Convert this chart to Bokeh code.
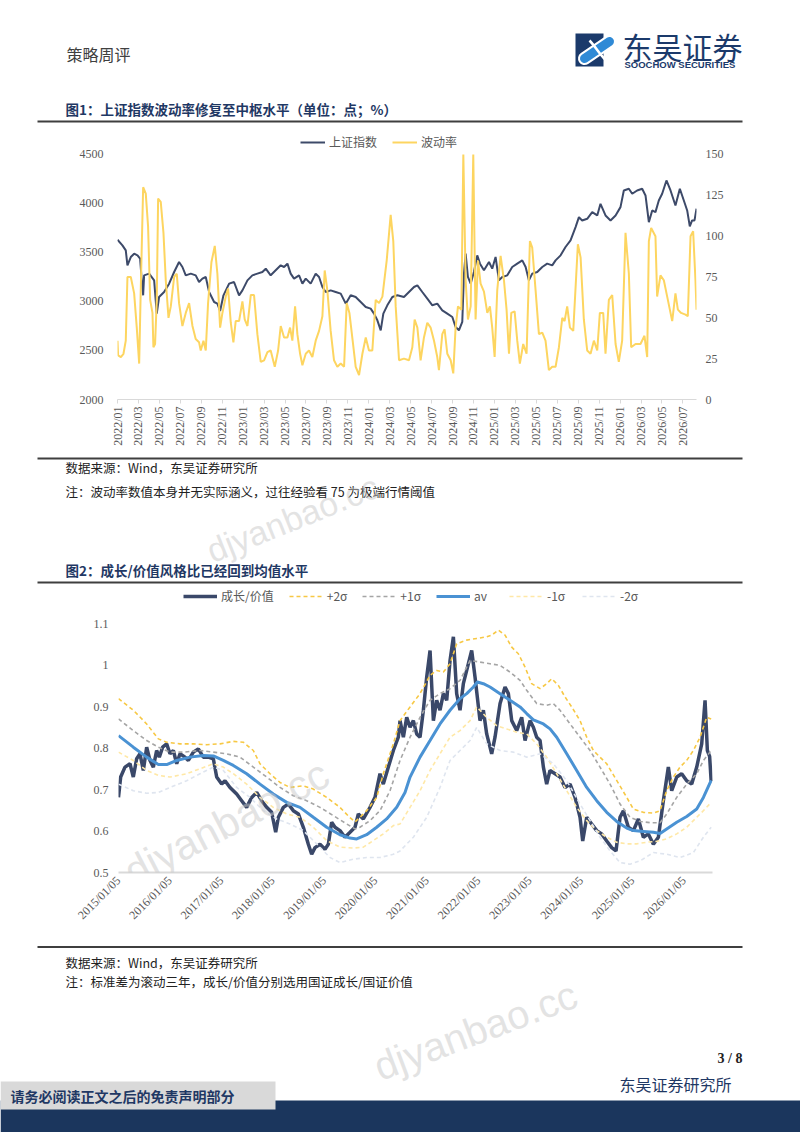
import math
from bokeh.plotting import figure
from bokeh.models import (Range1d, LinearAxis, FixedTicker, Legend, LegendItem, Label)
from bokeh.layouts import column
from bokeh.embed import file_html
from bokeh.resources import INLINE
from bokeh.core.properties import value

# ---------------- data: chart 1 (上证指数 / 波动率) ----------------
x1_ticks = list(range(0, 56, 2))
x1_labels = ["2022/01", "2022/03", "2022/05", "2022/07", "2022/09", "2022/11",
             "2023/01", "2023/03", "2023/05", "2023/07", "2023/09", "2023/11",
             "2024/01", "2024/03", "2024/05", "2024/07", "2024/09", "2024/11",
             "2025/01", "2025/03", "2025/05", "2025/07", "2025/09", "2025/11",
             "2026/01", "2026/03", "2026/05", "2026/07"]
y1_ticks = [2000, 2500, 3000, 3500, 4000, 4500]
y1r_ticks = [0, 25, 50, 75, 100, 125, 150]

sse_m = [0.0, 0.47, 0.79, 0.95, 1.27, 1.59, 1.91, 2.16, 2.29, 2.45, 2.54, 3.02, 3.50, 3.75, 3.97,
         4.45, 4.93, 5.41, 5.88, 6.20, 6.52, 7.0, 7.47, 7.79, 8.11, 8.43, 8.75, 9.23, 9.54, 9.80,
         10.12, 10.66, 11.13, 11.61, 11.93, 12.41, 12.88, 13.36, 13.84, 14.16, 14.63, 15.11, 15.59,
         15.91, 16.23, 16.54, 16.86, 17.34, 17.66, 17.98, 18.45, 18.93, 19.25, 19.57, 19.89, 20.36,
         20.84, 21.32, 21.80, 22.27, 22.75, 23.23, 23.71, 24.18, 24.50, 24.82, 25.14, 25.39, 25.77,
         26.25, 26.73, 27.36, 27.84, 28.32, 28.64, 29.11, 29.59, 30.07, 30.54, 31.02, 31.50, 31.98,
         32.29, 32.61, 32.93, 33.09, 33.25, 33.47, 33.73, 34.04, 34.36, 34.62, 35.0, 35.48, 35.79,
         36.11, 36.43, 36.75, 37.23, 37.70, 38.18, 38.66, 38.98, 39.29, 39.61, 40.09, 40.57, 41.04,
         41.52, 41.84, 42.32, 42.79, 43.27, 43.75, 44.07, 44.38, 44.86, 45.34, 45.82, 46.13, 46.61,
         47.09, 47.57, 48.04, 48.36, 48.84, 49.16, 49.63, 50.11, 50.43, 50.75, 51.07, 51.38, 51.70,
         52.02, 52.43, 52.82, 53.29, 53.71, 54.09, 54.41, 54.66, 54.88, 55.11, 55.30]
sse_val = [3630, 3573, 3522, 3369, 3454, 3488, 3471, 3437, 3250, 3063, 3267, 3284, 3216, 2876, 3046,
           3097, 3182, 3301, 3403, 3352, 3267, 3284, 3267, 3199, 3233, 3250, 3097, 2995, 2978, 2903,
           3063, 3182, 3199, 3063, 3114, 3216, 3267, 3284, 3301, 3335, 3267, 3318, 3369,
           3352, 3386, 3284, 3233, 3267, 3182, 3233, 3182, 3284, 3250, 3148, 3097, 3114,
           3097, 3080, 2978, 3063, 3046, 2995, 2944, 2927, 2876, 2808, 2706, 2876, 2961,
           3046, 3063, 3046, 3097, 3148, 3165, 3097, 3029, 2961, 2978, 2910, 2876, 2842,
           2740, 2706, 2791, 3284, 3488, 3250, 3182, 3301, 3471, 3386, 3318, 3403, 3335,
           3454, 3216, 3250, 3267, 3352, 3386, 3420, 3352, 3216, 3284, 3301, 3352, 3386,
           3369, 3420, 3471, 3556, 3624, 3759, 3861, 3827, 3844, 3912, 3878, 3997, 3878,
           3827, 3878, 3963, 4133, 4150, 4099, 4133, 4150, 4082, 3810, 3929, 3912, 4031,
           4099, 4235, 4133, 3980, 4150, 4031, 3929, 3766, 3827, 3827, 3946]

vol_m = [0.0, 0.06, 0.32, 0.57, 0.79, 0.95, 1.27, 1.59, 1.84, 2.07, 2.22, 2.45, 2.70, 2.92, 3.12,
         3.34, 3.43, 3.59, 3.75, 3.88, 4.13, 4.39, 4.61, 4.87, 5.09, 5.41, 5.66, 5.88, 6.20, 6.52,
         6.84, 7.16, 7.47, 7.79, 7.95, 8.21, 8.43, 8.65, 8.97, 9.29, 9.54, 9.80, 10.02, 10.34, 10.56,
         10.82, 11.07, 11.29, 11.61, 11.93, 12.15, 12.41, 12.73, 13.04, 13.36, 13.68, 14.0, 14.32,
         14.63, 15.02, 15.34, 15.59, 15.91, 16.23, 16.48, 16.70, 16.96, 17.18, 17.44, 17.66, 17.98,
         18.29, 18.61, 18.93, 19.25, 19.57, 19.79, 20.04, 20.36, 20.68, 21.0, 21.32, 21.64, 21.89,
         22.15, 22.46, 22.75, 23.07, 23.39, 23.71, 24.02, 24.34, 24.66, 24.98, 25.30, 25.71, 26.09,
         26.34, 26.57, 26.89, 27.36, 27.84, 28.16, 28.38, 28.64, 28.95, 29.27, 29.59, 29.91, 30.23,
         30.54, 30.70, 31.02, 31.24, 31.50, 31.82, 32.07, 32.29, 32.52, 32.84, 33.03, 33.25, 33.47,
         33.73, 33.98, 34.20, 34.43, 34.68, 35.0, 35.32, 35.57, 35.79, 36.02, 36.27, 36.59, 36.91,
         37.16, 37.39, 37.61, 37.93, 38.18, 38.43, 38.75, 39.07, 39.39, 39.61, 39.93, 40.25, 40.57,
         40.88, 41.20, 41.52, 41.84, 42.16, 42.48, 42.70, 42.95, 43.21, 43.53, 43.97, 44.23, 44.54,
         44.86, 45.18, 45.50, 45.82, 46.07, 46.39, 46.61, 46.93, 47.25, 47.57, 47.88, 48.20, 48.52,
         48.84, 49.06, 49.48, 49.95, 50.33, 50.59, 50.75, 50.97, 51.38, 51.54, 51.86, 52.18, 52.50,
         52.98, 53.29, 53.52, 53.83, 54.25, 54.47, 54.73, 54.98, 55.20, 55.30]
vol_val = [36, 27, 26, 28, 36, 75, 75, 65, 44, 22, 67, 130, 126, 106, 61,
           53, 32, 34, 61, 123, 121, 102, 73, 50, 57, 75, 77, 59, 45, 53,
           59, 45, 37, 35, 30, 36, 30, 59, 84, 94, 77, 44, 53, 63, 68,
           47, 35, 48, 48, 60, 49, 45, 64, 64, 40, 23, 24, 29,
           30, 20, 30, 45, 38, 38, 44, 36, 57, 40, 28, 21, 28,
           30, 26, 36, 42, 51, 79, 67, 42, 24, 20, 22, 20, 59,
           53, 36, 20, 15, 28, 38, 30, 30, 61, 59, 63, 85, 113,
           97, 57, 24, 25, 24, 32, 49, 44, 24, 38, 47, 44, 36,
           26, 18, 40, 43, 28, 24, 16, 44, 57, 55, 150, 73, 49,
           57, 150, 49, 85, 71, 66, 53, 57, 44, 26, 67, 88, 73,
           55, 28, 53, 54, 36, 22, 34, 28, 97, 93, 67, 40, 41,
           36, 18, 20, 20, 32, 50, 48, 57, 44, 42, 95, 87, 49,
           30, 28, 36, 30, 53, 53, 28, 61, 64, 34, 23, 36, 102,
           77, 32, 34, 34, 39, 26, 97, 105, 100, 63, 76, 73, 63,
           48, 65, 55, 53, 52, 51, 100, 103, 73, 55]

# ---------------- data: chart 2 (成长/价值) ----------------
x2_ticks = list(range(0, 12))
x2_labels = ["2015/01/05", "2016/01/05", "2017/01/05", "2018/01/05", "2019/01/05", "2020/01/05",
             "2021/01/05", "2022/01/05", "2023/01/05", "2024/01/05", "2025/01/05", "2026/01/05"]
y2_ticks = [0.5, 0.6, 0.7, 0.8, 0.9, 1.0, 1.1]
y2_labels = ["0.5", "0.6", "0.7", "0.8", "0.9", "1", "1.1"]

ratio_t = [0.0, 0.042, 0.126, 0.224, 0.288, 0.353, 0.418, 0.483, 0.548, 0.613, 0.678, 0.742, 0.794,
           0.859, 0.937, 1.002, 1.067, 1.132, 1.196, 1.294, 1.359, 1.456, 1.553, 1.650, 1.748, 1.845,
           1.910, 2.007, 2.072, 2.169, 2.299, 2.396, 2.493, 2.591, 2.688, 2.785, 2.883, 2.980, 3.058,
           3.110, 3.207, 3.304, 3.401, 3.499, 3.596, 3.693, 3.758, 3.823, 3.920, 4.017, 4.082, 4.147,
           4.212, 4.309, 4.406, 4.504, 4.601, 4.666, 4.763, 4.893, 4.990, 5.087, 5.152, 5.250, 5.347,
           5.444, 5.477, 5.542, 5.607, 5.672, 5.736, 5.801, 5.866, 5.931, 5.996, 6.061, 6.126, 6.190,
           6.255, 6.320, 6.385, 6.450, 6.515, 6.579, 6.644, 6.709, 6.774, 6.871, 6.936, 7.033, 7.098,
           7.163, 7.260, 7.325, 7.423, 7.520, 7.585, 7.650, 7.747, 7.844, 7.909, 8.006, 8.071, 8.136,
           8.201, 8.266, 8.330, 8.395, 8.493, 8.590, 8.687, 8.785, 8.882, 8.979, 9.031, 9.109, 9.206,
           9.303, 9.400, 9.498, 9.595, 9.679, 9.757, 9.822, 9.919, 10.017, 10.114, 10.211, 10.308,
           10.406, 10.503, 10.600, 10.697, 10.762, 10.860, 10.957, 11.054, 11.152, 11.249, 11.346,
           11.411, 11.456, 11.500, 11.530]
ratio_val = [0.681, 0.730, 0.754, 0.762, 0.730, 0.774, 0.786, 0.746, 0.802, 0.770, 0.754, 0.794, 0.778,
             0.802, 0.810, 0.786, 0.794, 0.762, 0.786, 0.778, 0.770, 0.790, 0.798, 0.778, 0.778, 0.774,
             0.730, 0.713, 0.721, 0.705, 0.689, 0.673, 0.657, 0.681, 0.693, 0.673, 0.657, 0.645, 0.597,
             0.633, 0.657, 0.665, 0.649, 0.641, 0.609, 0.568, 0.544, 0.560, 0.568, 0.556, 0.568, 0.621,
             0.609, 0.601, 0.585, 0.597, 0.609, 0.641, 0.629, 0.657, 0.681, 0.738, 0.713, 0.754, 0.794,
             0.826, 0.866, 0.826, 0.874, 0.850, 0.866, 0.834, 0.826, 0.891, 0.971, 1.035, 0.866, 0.915,
             0.891, 0.931, 0.915, 1.011, 1.068, 0.931, 0.891, 0.955, 0.987, 1.035, 0.971, 0.866, 0.891,
             0.834, 0.786, 0.826, 0.907, 0.947, 0.931, 0.866, 0.842, 0.874, 0.818, 0.866, 0.850, 0.826,
             0.818, 0.754, 0.713, 0.746, 0.738, 0.730, 0.705, 0.713, 0.681, 0.633, 0.576, 0.633, 0.617,
             0.601, 0.593, 0.576, 0.560, 0.552, 0.633, 0.649, 0.609, 0.601, 0.629, 0.585, 0.593,
             0.568, 0.585, 0.673, 0.754, 0.697, 0.730, 0.738, 0.721, 0.713, 0.754, 0.810,
             0.915, 0.794, 0.780, 0.720]

av_t = [0.0, 0.288, 0.548, 0.775, 0.937, 1.132, 1.391, 1.650, 1.845, 2.039, 2.234, 2.493, 2.753, 3.012,
        3.272, 3.531, 3.790, 4.050, 4.309, 4.504, 4.634, 4.828, 5.023, 5.217, 5.412, 5.574, 5.672,
        5.866, 6.061, 6.255, 6.450, 6.644, 6.774, 6.904, 6.982, 7.098, 7.228, 7.423, 7.617, 7.812,
        7.941, 8.071, 8.266, 8.395, 8.525, 8.720, 8.914, 9.109, 9.303, 9.498, 9.692, 9.887, 10.017,
        10.211, 10.406, 10.535, 10.665, 10.860, 11.054, 11.249, 11.379, 11.530]
av_val = [0.830, 0.802, 0.778, 0.760, 0.760, 0.770, 0.778, 0.782, 0.781, 0.770, 0.758, 0.738, 0.713, 0.689,
          0.669, 0.657, 0.633, 0.609, 0.591, 0.583, 0.581, 0.591, 0.609, 0.629, 0.657, 0.693, 0.730,
          0.778, 0.818, 0.858, 0.891, 0.919, 0.931, 0.947, 0.959, 0.955, 0.947, 0.931, 0.915, 0.899,
          0.883, 0.868, 0.858, 0.846, 0.826, 0.786, 0.746, 0.705, 0.673, 0.645, 0.623, 0.607, 0.601,
          0.599, 0.597, 0.594, 0.605, 0.621, 0.635, 0.653, 0.681, 0.722]

p2s_t = [0.0, 0.288, 0.548, 0.775, 0.937, 1.196, 1.456, 1.715, 1.975, 2.234, 2.429, 2.623, 2.753, 2.947,
         3.142, 3.336, 3.596, 3.790, 4.050, 4.309, 4.504, 4.601, 4.698, 4.828, 5.023, 5.152, 5.347,
         5.477, 5.672, 5.866, 6.061, 6.190, 6.320, 6.450, 6.579, 6.774, 6.969, 7.163, 7.260, 7.390,
         7.520, 7.650, 7.779, 7.909, 8.039, 8.201, 8.330, 8.428, 8.557, 8.687, 8.817, 8.979, 9.109,
         9.238, 9.368, 9.498, 9.692, 9.887, 10.017, 10.211, 10.406, 10.535, 10.665, 10.795, 10.924,
         11.054, 11.184, 11.314, 11.443, 11.530]
p2s_val = [0.919, 0.891, 0.858, 0.822, 0.814, 0.810, 0.810, 0.808, 0.810, 0.816, 0.814, 0.794, 0.762, 0.738,
           0.717, 0.705, 0.709, 0.701, 0.681, 0.657, 0.632, 0.622, 0.633, 0.649, 0.681, 0.738, 0.810,
           0.866, 0.899, 0.931, 0.975, 0.987, 0.983, 1.003, 1.051, 1.060, 1.064, 1.068, 1.072, 1.084,
           1.072, 1.043, 1.027, 0.995, 0.955, 0.943, 0.955, 0.967, 0.951, 0.923, 0.899, 0.866, 0.826,
           0.794, 0.778, 0.762, 0.722, 0.681, 0.653, 0.645, 0.643, 0.649, 0.697, 0.730, 0.754,
           0.770, 0.794, 0.826, 0.874, 0.870]

p1s_t = [0.0, 0.288, 0.548, 0.775, 1.002, 1.261, 1.585, 1.845, 2.104, 2.364, 2.623, 2.883, 3.142, 3.401,
         3.661, 3.920, 4.180, 4.439, 4.601, 4.698, 4.893, 5.087, 5.282, 5.477, 5.672, 5.866, 6.061,
         6.255, 6.450, 6.644, 6.839, 7.033, 7.228, 7.423, 7.617, 7.812, 7.941, 8.136, 8.330, 8.460,
         8.590, 8.785, 8.979, 9.174, 9.368, 9.563, 9.757, 9.952, 10.146, 10.341, 10.535, 10.665,
         10.860, 11.054, 11.249, 11.379, 11.530]
p1s_val = [0.870, 0.842, 0.818, 0.802, 0.790, 0.790, 0.794, 0.790, 0.786, 0.778, 0.754, 0.730, 0.705, 0.685,
           0.673, 0.657, 0.637, 0.617, 0.605, 0.609, 0.625, 0.649, 0.697, 0.770, 0.826, 0.874, 0.915,
           0.931, 0.943, 0.963, 1.011, 1.007, 1.003, 0.999, 0.983, 0.963, 0.939, 0.907, 0.903, 0.907,
           0.891, 0.858, 0.826, 0.794, 0.754, 0.713, 0.665, 0.633, 0.623, 0.620, 0.620, 0.641,
           0.681, 0.713, 0.738, 0.770, 0.794]

m1s_t = [0.0, 0.288, 0.548, 0.775, 1.002, 1.326, 1.585, 1.845, 2.039, 2.234, 2.493, 2.753, 3.012, 3.272,
         3.531, 3.790, 4.050, 4.309, 4.569, 4.763, 4.958, 5.152, 5.347, 5.477, 5.672, 5.866, 6.061,
         6.255, 6.450, 6.644, 6.839, 6.969, 7.163, 7.358, 7.552, 7.747, 7.941, 8.136, 8.330, 8.525,
         8.720, 8.914, 9.109, 9.303, 9.498, 9.692, 9.887, 10.081, 10.276, 10.470, 10.665, 10.860,
         11.054, 11.249, 11.379, 11.530]
m1s_val = [0.790, 0.770, 0.746, 0.734, 0.730, 0.738, 0.750, 0.762, 0.754, 0.738, 0.713, 0.681, 0.657, 0.641,
           0.633, 0.609, 0.577, 0.561, 0.559, 0.561, 0.577, 0.593, 0.613, 0.617, 0.657, 0.697, 0.746,
           0.786, 0.826, 0.842, 0.866, 0.899, 0.874, 0.854, 0.846, 0.838, 0.834, 0.810, 0.778, 0.738,
           0.697, 0.657, 0.625, 0.601, 0.585, 0.573, 0.569, 0.569, 0.573, 0.575, 0.581, 0.593,
           0.609, 0.633, 0.649, 0.669]

m2s_t = [0.0, 0.288, 0.548, 0.775, 1.002, 1.326, 1.585, 1.845, 2.039, 2.299, 2.558, 2.818, 3.077, 3.336,
         3.596, 3.855, 4.115, 4.309, 4.569, 4.828, 5.087, 5.347, 5.477, 5.736, 5.996, 6.255, 6.450,
         6.644, 6.839, 6.969, 7.163, 7.423, 7.682, 7.941, 8.201, 8.460, 8.720, 8.979, 9.174, 9.368,
         9.563, 9.757, 9.952, 10.146, 10.406, 10.665, 10.924, 11.184, 11.379, 11.530]
m2s_val = [0.713, 0.697, 0.691, 0.693, 0.705, 0.721, 0.738, 0.754, 0.746, 0.705, 0.681, 0.649, 0.629, 0.617,
           0.601, 0.569, 0.536, 0.524, 0.532, 0.536, 0.536, 0.544, 0.552, 0.585, 0.633, 0.705, 0.770,
           0.794, 0.818, 0.850, 0.810, 0.794, 0.790, 0.778, 0.786, 0.762, 0.721, 0.665, 0.625, 0.585,
           0.552, 0.524, 0.520, 0.528, 0.548, 0.544, 0.536, 0.548, 0.585, 0.609]

# ---------------- style ----------------
W = 800
CJK = "Noto Sans CJK SC"
SERIF = "Liberation Serif"
NAVY = "#1f3864"
TICK_C = "#595959"


def deco_fig(y0, y1):
    p = figure(width=W, height=int(y1 - y0), x_range=Range1d(0, 800), y_range=Range1d(y1, y0),
               output_backend="svg", toolbar_location=None, min_border=0,
               x_axis_location=None, y_axis_location=None, frame_align=False)
    p.grid.visible = False
    p.outline_line_color = None
    return p


def txt(p, x, y, s, size, color="#222222", font=CJK, style="normal", align="left",
        baseline="middle", angle=0.0, alpha=1.0):
    p.text(x=[x], y=[y], text=[s], text_font=value(font), text_font_size=value(f"{size}px"),
           text_color=color, text_font_style=style, text_align=align, text_baseline=baseline,
           angle=angle, text_alpha=alpha)


def hline(p, y, x0=37, x1=742, color="#3f3f3f", width=2):
    p.line(x=[x0, x1], y=[y, y], line_color=color, line_width=width)


def style_legend(leg, gw):
    leg.border_line_color = None
    leg.background_fill_alpha = 0
    leg.label_text_font = CJK
    leg.label_text_font_size = "12px"
    leg.label_text_color = TICK_C
    leg.glyph_width = gw
    leg.glyph_height = 12
    leg.label_height = 12
    leg.label_standoff = 4
    leg.spacing = 15
    leg.padding = 0
    leg.margin = 0


# ---------------- header ----------------
pa = deco_fig(0, 130)
txt(pa, 66, 53, "策略周评", 16, color="#404040")
LOGO_BLUE = "#2f8ad6"
pa.quad(left=[575], right=[603], top=[33], bottom=[66], fill_color="#1b3a6b", line_color=None)
pa.line(x=[584, 609], y=[58, 41], line_color="#ffffff", line_width=13, line_cap="round")
pa.line(x=[584, 609], y=[58, 41], line_color=LOGO_BLUE, line_width=9, line_cap="round")
pa.bezier(x0=[589], y0=[40], x1=[608], y1=[62], cx0=[596], cy0=[47], cx1=[600], cy1=[56],
          line_color="#ffffff", line_width=2.5)
txt(pa, 622, 45, "东吴证券", 30, color="#1b3a6b")
txt(pa, 624, 64, "SOOCHOW SECURITIES", 9.5, color="#1b3a6b", font="Liberation Sans", style="bold")
txt(pa, 65, 108, "图1：上证指数波动率修复至中枢水平（单位：点；%）", 13.5, color=NAVY, style="bold")
hline(pa, 121)

# ---------------- chart 1 ----------------
# frame spans page y 134..399; 4500 / 150 sit at page y 154 so the legend fits inside the frame
p1 = figure(width=W, height=325, x_range=Range1d(0, 55.3), y_range=Range1d(2000, 4704),
            output_backend="svg", toolbar_location=None, frame_align=False,
            min_border_left=117, min_border_right=104, min_border_top=4, min_border_bottom=56)
p1.extra_y_ranges = {"vol": Range1d(0, 162.24)}
p1.grid.visible = False
p1.outline_line_color = None
r_sse = p1.line(sse_m, sse_val, line_color="#3d4a69", line_width=2)
r_vol = p1.line(vol_m, vol_val, line_color="#fdd560", line_width=2, y_range_name="vol")

ax = p1.xaxis[0]
ax.ticker = FixedTicker(ticks=x1_ticks)
ax.major_label_overrides = {t: l for t, l in zip(x1_ticks, x1_labels)}
ax.major_label_orientation = math.pi / 2
ax.axis_line_color = "#d9d9d9"
ax.major_tick_line_color = "#d9d9d9"
ax.major_tick_out = 4
ax.major_tick_in = 0
ax.minor_tick_line_color = None
ax.major_label_standoff = 3
ax.major_label_text_font = SERIF
ax.major_label_text_font_size = "12px"
ax.major_label_text_color = TICK_C

ay = p1.yaxis[0]
ay.ticker = FixedTicker(ticks=y1_ticks)
ay2 = LinearAxis(y_range_name="vol", ticker=FixedTicker(ticks=y1r_ticks))
p1.add_layout(ay2, "right")
for a in (ay, ay2):
    a.axis_line_color = None
    a.major_tick_line_color = None
    a.minor_tick_line_color = None
    a.major_tick_out = 0
    a.major_tick_in = 0
    a.major_label_text_font = SERIF
    a.major_label_text_font_size = "12px"
    a.major_label_text_color = TICK_C
ay.major_label_standoff = 14
ay2.major_label_standoff = 9

leg1 = Legend(items=[LegendItem(label="上证指数", renderers=[r_sse]),
                     LegendItem(label="波动率", renderers=[r_vol])],
              location=(183, 249), orientation="horizontal")
style_legend(leg1, 25)
p1.add_layout(leg1)

# ---------------- middle text ----------------
pc = deco_fig(455, 585)
hline(pc, 458)
txt(pc, 65, 467, "数据来源：Wind，东吴证券研究所", 12.5)
txt(pc, 65, 491, "注：波动率数值本身并无实际涵义，过往经验看 75 为极端行情阈值", 12.5)
txt(pc, 292, 518, "djyanbao.cc", 34, color="#c8c8c8", font="Liberation Sans", align="center",
    angle=0.38, alpha=0.5)
txt(pc, 65, 569, "图2：成长/价值风格比已经回到均值水平", 13.5, color=NAVY, style="bold")
hline(pc, 582)

# ---------------- chart 2 ----------------
# frame spans page y 585..872; 1.1 sits at page y 623 so the legend fits inside the frame
p2 = figure(width=W, height=360, x_range=Range1d(0, 11.556), y_range=Range1d(0.5, 1.1916),
            output_backend="svg", toolbar_location=None, frame_align=False,
            min_border_left=118, min_border_right=88, min_border_top=0, min_border_bottom=73)
p2.grid.visible = False
p2.outline_line_color = None
r_main = p2.line(ratio_t, ratio_val, line_color="#3a4869", line_width=3.5)
r_p2 = p2.line(p2s_t, p2s_val, line_color="#f7c844", line_width=1.6, line_dash="4 3")
r_p1 = p2.line(p1s_t, p1s_val, line_color="#a5a5a5", line_width=1.6, line_dash="4 3")
r_av = p2.line(av_t, av_val, line_color="#4a92d3", line_width=3)
r_m1 = p2.line(m1s_t, m1s_val, line_color="#ffe8a6", line_width=1.6, line_dash="4 3")
r_m2 = p2.line(m2s_t, m2s_val, line_color="#dfe5ef", line_width=1.6, line_dash="4 3")

bx = p2.xaxis[0]
bx.ticker = FixedTicker(ticks=x2_ticks)
bx.major_label_overrides = {t: l for t, l in zip(x2_ticks, x2_labels)}
bx.major_label_orientation = math.pi / 4
bx.axis_line_color = "#d9d9d9"
bx.axis_line_width = 2
bx.major_tick_line_color = None
bx.minor_tick_line_color = None
bx.major_tick_out = 0
bx.major_tick_in = 0
bx.major_label_standoff = 6
bx.major_label_text_font = SERIF
bx.major_label_text_font_size = "12px"
bx.major_label_text_color = TICK_C

by = p2.yaxis[0]
by.ticker = FixedTicker(ticks=y2_ticks)
by.major_label_overrides = {t: l for t, l in zip(y2_ticks, y2_labels)}
by.axis_line_color = None
by.major_tick_line_color = None
by.minor_tick_line_color = None
by.major_tick_out = 0
by.major_tick_in = 0
by.major_label_standoff = 10
by.major_label_text_font = SERIF
by.major_label_text_font_size = "12px"
by.major_label_text_color = TICK_C

leg2 = Legend(items=[LegendItem(label="成长/价值", renderers=[r_main]),
                     LegendItem(label="+2σ", renderers=[r_p2]),
                     LegendItem(label="+1σ", renderers=[r_p1]),
                     LegendItem(label="av", renderers=[r_av]),
                     LegendItem(label="-1σ", renderers=[r_m1]),
                     LegendItem(label="-2σ", renderers=[r_m2])],
              location=(65, 268), orientation="horizontal")
style_legend(leg2, 34)
p2.add_layout(leg2)
p2.add_layout(Label(x=2.1, y=0.62, text="djyanbao.cc", angle=0.48, text_align="center",
                    text_baseline="middle", text_font="Liberation Sans",
                    text_font_size="42px", text_color="#c8c8c8", text_alpha=0.5))

# ---------------- footer ----------------
pe = deco_fig(945, 1132)
hline(pe, 946.5)
txt(pe, 65, 962, "数据来源：Wind，东吴证券研究所", 12.5)
txt(pe, 65, 981, "注：标准差为滚动三年，成长/价值分别选用国证成长/国证价值", 12.5)
txt(pe, 475, 1030, "djyanbao.cc", 40, color="#c8c8c8", font="Liberation Sans", align="center",
    angle=0.36, alpha=0.5)
txt(pe, 742, 1058, "3 / 8", 14, color="#222222", font=SERIF, style="bold", align="right")
pe.quad(left=[0], right=[800], top=[1100], bottom=[1132], fill_color="#1b365d", line_color=None)
pe.quad(left=[0], right=[275], top=[1081], bottom=[1109], fill_color="#d9d9d9", line_color=None)
txt(pe, 10, 1095, "请务必阅读正文之后的免责声明部分", 14, color=NAVY, style="bold")
txt(pe, 731, 1083, "东吴证券研究所", 16, color=NAVY, align="right")

layout = column(pa, p1, pc, p2, pe, spacing=0)
open("out.html", "w").write(file_html(layout, INLINE))
